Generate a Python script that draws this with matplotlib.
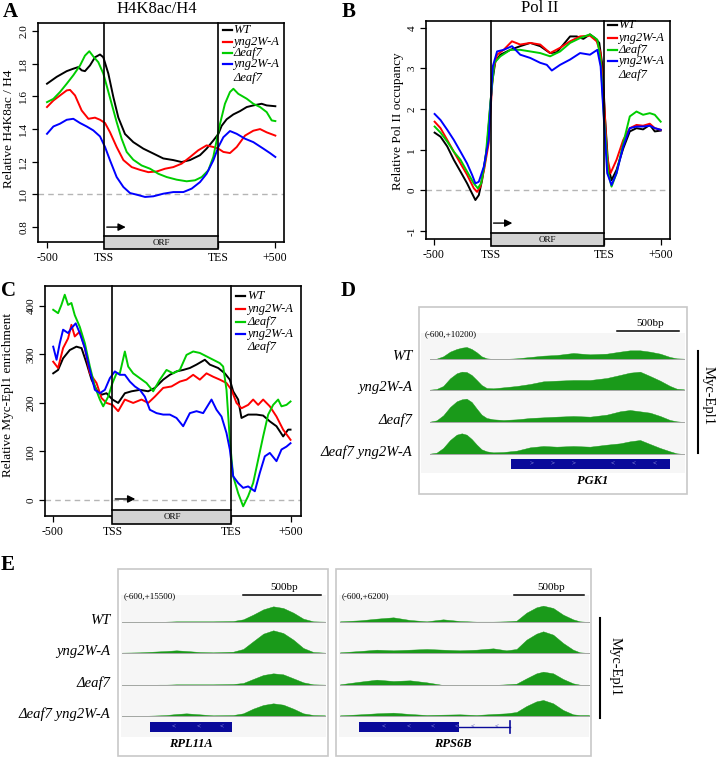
import matplotlib.pyplot as plt
from matplotlib.patches import Rectangle
from matplotlib.transforms import blended_transform_factory

plt.rcParams['font.family'] = ['Liberation Serif', 'DejaVu Serif']

W, H = 720, 758

strains = ['WT', 'yng2W-A', 'Δeaf7', 'yng2W-A']
colors = ['black', 'red', '#00cd00', 'blue']
igv_labels = ['WT', 'yng2W-A', 'Δeaf7', 'Δeaf7 yng2W-A']

# ---- A: H4K8ac/H4 (x: -500..0 upstream, 0..1000 scaled ORF, 1000..1500 downstream)
a_wt_x = [-500, -415, -327, -269, -225, -196, -167, -123, -79, -35, -6, 38, 82, 126, 184, 257, 345, 433,
          520, 608, 681, 754, 842, 900, 959, 1003, 1032, 1076, 1135, 1193, 1252, 1310, 1383, 1427, 1503]
a_wt_y = [1.678, 1.72, 1.755, 1.77, 1.78, 1.76, 1.755, 1.79, 1.84, 1.857, 1.84, 1.74, 1.596, 1.47, 1.37,
          1.32, 1.28, 1.25, 1.22, 1.21, 1.198, 1.21, 1.24, 1.28, 1.33, 1.37, 1.42, 1.46, 1.49, 1.51, 1.535,
          1.545, 1.555, 1.545, 1.54]
a_red_x = [-500, -444, -386, -327, -298, -254, -196, -137, -79, -35, 9, 53, 111, 170, 243, 316, 389, 462,
           535, 608, 681, 754, 827, 900, 959, 1003, 1047, 1105, 1164, 1237, 1310, 1369, 1427, 1503]
a_red_y = [1.535, 1.575, 1.606, 1.637, 1.64, 1.606, 1.514, 1.463, 1.47, 1.457, 1.437, 1.38, 1.29, 1.21,
           1.167, 1.15, 1.136, 1.14, 1.157, 1.167, 1.188, 1.228, 1.27, 1.30, 1.29, 1.28, 1.26, 1.253, 1.29,
           1.36, 1.39, 1.40, 1.38, 1.36]
a_grn_x = [-500, -444, -386, -327, -269, -210, -167, -129, -94, -50, -6, 23, 67, 111, 155, 199, 257, 330,
           404, 477, 550, 637, 725, 798, 857, 915, 959, 988, 1018, 1061, 1105, 1135, 1178, 1252, 1310, 1369,
           1427, 1471, 1503]
a_grn_y = [1.565, 1.585, 1.627, 1.678, 1.73, 1.79, 1.85, 1.877, 1.845, 1.81, 1.74, 1.667, 1.555, 1.443,
           1.34, 1.26, 1.212, 1.177, 1.157, 1.126, 1.106, 1.09, 1.08, 1.086, 1.106, 1.147, 1.23, 1.33, 1.433,
           1.555, 1.627, 1.647, 1.616, 1.586, 1.555, 1.535, 1.504, 1.453, 1.449]
a_blu_x = [-500, -444, -386, -327, -269, -210, -152, -94, -35, 9, 53, 111, 170, 228, 287, 360, 433, 520,
           608, 696, 769, 842, 900, 959, 1003, 1047, 1105, 1164, 1237, 1310, 1398, 1456, 1503]
a_blu_y = [1.371, 1.416, 1.433, 1.457, 1.463, 1.437, 1.416, 1.392, 1.355, 1.29, 1.208, 1.106, 1.045, 1.008,
           0.998, 0.984, 0.988, 1.004, 1.014, 1.014, 1.035, 1.075, 1.126, 1.208, 1.29, 1.35, 1.388, 1.371,
           1.341, 1.32, 1.28, 1.253, 1.229]

# ---- B: Pol II
b_wt_x = [-494, -442, -383, -325, -266, -208, -164, -135, -105, -76, -32, 12, 41, 85, 173, 260, 348, 436,
          523, 582, 640, 699, 757, 816, 874, 918, 956, 985, 1006, 1035, 1064, 1108, 1167, 1225, 1284, 1342,
          1401, 1445, 1497]
b_wt_y = [1.42, 1.32, 1.08, 0.75, 0.46, 0.17, -0.08, -0.24, -0.12, 0.25, 1.08, 2.64, 3.18, 3.34, 3.46,
          3.55, 3.63, 3.55, 3.38, 3.40, 3.59, 3.79, 3.79, 3.73, 3.84, 3.75, 3.63, 3.05, 1.82, 0.58, 0.25,
          0.50, 1.03, 1.45, 1.53, 1.50, 1.61, 1.45, 1.47]
b_red_x = [-494, -442, -383, -325, -266, -208, -149, -120, -91, -56, -18, 18, 56, 114, 187, 260, 348, 436,
           523, 611, 699, 787, 874, 933, 968, 997, 1026, 1055, 1108, 1167, 1225, 1284, 1342, 1401, 1445, 1497]
b_red_y = [1.69, 1.53, 1.24, 0.95, 0.66, 0.38, 0.05, -0.04, 0.09, 0.54, 1.16, 2.89, 3.34, 3.46, 3.67,
           3.59, 3.63, 3.59, 3.38, 3.51, 3.67, 3.79, 3.81, 3.67, 3.38, 2.23, 0.83, 0.42, 0.75, 1.24, 1.53,
           1.61, 1.59, 1.64, 1.53, 1.49]
b_grn_x = [-494, -442, -383, -325, -266, -208, -149, -114, -85, -47, -3, 32, 85, 173, 260, 348, 436, 523,
           611, 699, 787, 874, 939, 968, 997, 1035, 1064, 1108, 1167, 1225, 1284, 1342, 1401, 1445, 1497]
b_grn_y = [1.57, 1.42, 1.20, 0.95, 0.75, 0.46, 0.17, 0.05, 0.17, 0.75, 2.15, 3.14, 3.30, 3.46, 3.46,
           3.42, 3.38, 3.30, 3.42, 3.63, 3.75, 3.84, 3.71, 3.22, 1.82, 0.42, 0.09, 0.42, 1.16, 1.82, 1.94,
           1.86, 1.90, 1.86, 1.69]
b_blu_x = [-494, -442, -383, -325, -266, -208, -164, -135, -105, -61, -18, 18, 56, 114, 187, 260, 348, 436,
           494, 538, 611, 699, 787, 874, 939, 968, 997, 1026, 1064, 1108, 1167, 1225, 1284, 1342, 1401, 1445,
           1497]
b_blu_y = [1.88, 1.73, 1.49, 1.24, 0.95, 0.66, 0.38, 0.17, 0.21, 0.58, 1.24, 3.05, 3.42, 3.46, 3.55,
           3.34, 3.26, 3.14, 3.09, 2.95, 3.09, 3.22, 3.38, 3.34, 3.46, 3.05, 1.73, 0.42, 0.13, 0.42, 1.08,
           1.53, 1.57, 1.57, 1.59, 1.53, 1.49]

# ---- C: Myc-Epl1
c_wt_x = [-498, -457, -415, -359, -303, -260, -218, -176, -134, -92, -50, 0, 48, 104, 160, 230, 300, 356,
          426, 482, 538, 594, 650, 706, 776, 818, 888, 944, 986, 1014, 1056, 1084, 1140, 1210, 1266, 1322,
          1378, 1434, 1476, 1496]
c_wt_y = [261, 268, 292, 309, 316, 313, 282, 248, 227, 217, 220, 207, 200, 220, 224, 227, 224, 231, 248,
          258, 265, 268, 272, 279, 289, 279, 272, 261, 248, 224, 207, 169, 176, 176, 174, 162, 152, 131,
          145, 145]
c_red_x = [-498, -457, -415, -373, -345, -317, -275, -232, -190, -134, -92, -50, 0, 48, 104, 174, 244, 300,
           356, 426, 496, 566, 622, 678, 734, 790, 846, 902, 958, 1000, 1042, 1084, 1140, 1182, 1224, 1266,
           1322, 1378, 1434, 1496]
c_red_y = [285, 272, 313, 333, 361, 337, 347, 313, 261, 241, 210, 200, 196, 183, 207, 200, 207, 200, 213,
           231, 234, 244, 248, 258, 248, 261, 254, 248, 241, 227, 200, 189, 196, 207, 196, 207, 193, 172,
           145, 124]
c_grn_x = [-498, -457, -429, -401, -373, -345, -317, -275, -232, -190, -148, -106, -78, -36, 0, 34, 62, 104,
           132, 174, 230, 286, 342, 398, 454, 510, 566, 622, 678, 734, 790, 846, 902, 930, 958, 986, 1014,
           1056, 1098, 1140, 1182, 1224, 1266, 1308, 1350, 1392, 1420, 1462, 1496]
c_grn_y = [392, 385, 402, 423, 402, 406, 381, 357, 323, 275, 234, 207, 193, 213, 241, 261, 261, 306, 275,
           261, 251, 241, 224, 248, 268, 261, 268, 299, 306, 303, 296, 289, 282, 275, 227, 124, 49, 14, -13,
           8, 35, 83, 131, 176, 196, 207, 193, 196, 203]
c_blu_x = [-498, -470, -443, -415, -373, -345, -309, -275, -232, -190, -148, -106, -64, -22, 20, 62, 104,
           146, 188, 230, 272, 314, 370, 426, 482, 538, 594, 650, 706, 762, 832, 874, 916, 958, 986, 1014,
           1056, 1098, 1140, 1196, 1238, 1280, 1322, 1378, 1420, 1462, 1496]
c_blu_y = [316, 289, 323, 351, 344, 354, 364, 344, 313, 268, 227, 220, 227, 251, 265, 258, 258, 244, 234,
           227, 213, 186, 179, 176, 176, 169, 152, 179, 183, 179, 207, 186, 172, 138, 104, 49, 35, 25, 28,
           18, 56, 90, 97, 80, 104, 110, 117]

# ---- D: PGK1 browser tracks (position = fraction of window, signal in arbitrary units)
d_pos = [0, .026, .052, .079, .105, .125, .144, .164, .184, .203, .223, .249, .289, .341, .394, .446, .499,
         .564, .630, .696, .748, .787, .827, .866, .906, .945, .971, 1.0]
d_tracks = [
    [0, 1, 8, 22, 30, 34, 36, 30, 20, 8, 2, 0, 0, 2, 6, 10, 12, 18, 14, 16, 22, 26, 26, 22, 16, 6, 2, 1],
    [1, 3, 12, 35, 50, 55, 54, 45, 30, 15, 6, 5, 8, 12, 18, 26, 28, 30, 30, 36, 45, 52, 55, 42, 28, 12, 4, 2],
    [1, 5, 20, 45, 62, 68, 70, 60, 40, 22, 12, 8, 6, 8, 12, 14, 16, 18, 16, 22, 32, 36, 32, 28, 18, 6, 2, 0],
    [1, 4, 18, 42, 58, 62, 58, 45, 28, 14, 8, 5, 6, 10, 20, 24, 22, 24, 22, 28, 32, 38, 42, 30, 18, 8, 2, 0],
]

# ---- E: RPL11A and RPS6B browser tracks
e1_pos = [0, .087, .186, .219, .268, .317, .383, .449, .548, .597, .646, .696, .745, .794, .844, .893,
          .942, 1.0]
e1_tracks = [
    [0, 0, 0, 1, 2, 2, 2, 2, 3, 8, 22, 38, 47, 42, 28, 10, 2, 1],
    [1, 2, 5, 6, 8, 6, 3, 2, 4, 12, 35, 58, 68, 60, 40, 15, 3, 1],
    [0, 0, 1, 1, 2, 2, 2, 2, 3, 6, 18, 30, 35, 32, 20, 8, 2, 1],
    [0, 0, 2, 3, 6, 8, 5, 2, 3, 8, 22, 33, 38, 34, 22, 8, 3, 2],
]
e2_pos = [0, .080, .147, .214, .281, .348, .414, .481, .548, .615, .668, .709, .749, .789, .816, .856,
          .896, .936, .963, 1.0]
e2_tracks = [
    [2, 5, 10, 14, 6, 2, 8, 3, 1, 1, 2, 4, 28, 44, 49, 42, 22, 8, 2, 0],
    [2, 6, 10, 8, 10, 12, 10, 8, 10, 14, 8, 12, 40, 58, 65, 55, 30, 10, 2, 0],
    [2, 10, 16, 12, 14, 8, 0, 0, 0, 0, 2, 4, 20, 35, 40, 35, 18, 5, 1, 0],
    [2, 5, 8, 10, 6, 3, 4, 5, 3, 6, 8, 12, 30, 44, 48, 38, 18, 5, 3, 3],
]

fig = plt.figure(figsize=(W / 100, H / 100), dpi=100)

# pixel canvas for the browser panels and free text
cv = fig.add_axes([0, 0, 1, 1])
cv.set_xlim(0, W)
cv.set_ylim(H, 0)
cv.axis('off')


def px_axes(x0, y0, x1, y1):
    return fig.add_axes([x0 / W, 1 - y1 / H, (x1 - x0) / W, (y1 - y0) / H])


def profile(ax, data, xlim, ylim, yticks, ref_y, arrow_y, leg):
    for (x, y), c in zip(data, colors):
        ax.plot(x, y, color=c, lw=1.4)
    ax.axhline(ref_y, color='#b5b5b5', ls=(0, (4, 3)), lw=1, zorder=1)
    ax.set_xlim(*xlim)
    ax.set_ylim(*ylim)
    tr = blended_transform_factory(ax.transData, ax.transAxes)
    for xv in (0, 1000):
        ax.plot([xv, xv], [0.028, 1], transform=tr, color='black', lw=1.2, clip_on=False)
    ax.add_patch(Rectangle((0, -0.034), 1000, 0.062, transform=tr, fc='#d3d3d3', ec='black',
                           lw=1.2, clip_on=False, zorder=5))
    ax.text(500, -0.004, 'ORF', transform=tr, ha='center', va='center', fontsize=6.5, zorder=6)
    ax.annotate('', xy=(215, arrow_y), xytext=(0, arrow_y), xycoords=tr,
                arrowprops=dict(arrowstyle='-|>', color='black', lw=1, mutation_scale=11))
    ax.set_xticks([-500, 0, 1000, 1500])
    ax.set_xticklabels(['-500', 'TSS', 'TES', '+500'], fontsize=8.5)
    ax.set_yticks(yticks)
    ax.set_yticklabels([str(t) for t in yticks], rotation=90, va='center', fontsize=8)
    ax.tick_params(length=4, width=0.9, pad=3)
    for s in ax.spines.values():
        s.set_linewidth(1.2)
    lx, ly = leg
    for i, (lab, c) in enumerate(zip(strains, colors)):
        ax.plot([lx, lx + 0.035], [ly[i], ly[i]], transform=ax.transAxes, color=c, lw=1.6)
        ax.text(lx + 0.042, ly[i], lab, transform=ax.transAxes, style='italic', fontsize=9, va='center')
    ax.text(lx + 0.042, ly[4], 'Δeaf7', transform=ax.transAxes, style='italic', fontsize=9, va='center')


axA = px_axes(38, 23, 284, 242)
profile(axA, [(a_wt_x, a_wt_y), (a_red_x, a_red_y), (a_grn_x, a_grn_y), (a_blu_x, a_blu_y)],
        (-579, 1579), (0.708, 2.05), [0.8, 1.0, 1.2, 1.4, 1.6, 1.8, 2.0], 1.0, 0.068,
        (0.752, [0.968, 0.913, 0.865, 0.815, 0.75]))
axA.set_yticklabels(['0.8', '1.0', '1.2', '1.4', '1.6', '1.8', '2.0'], rotation=90, va='center', fontsize=8)

axB = px_axes(426, 21, 670, 239)
profile(axB, [(b_wt_x, b_wt_y), (b_red_x, b_red_y), (b_grn_x, b_grn_y), (b_blu_x, b_blu_y)],
        (-570, 1579), (-1.2, 4.17), [-1, 0, 1, 2, 3, 4], 0.0, 0.073,
        (0.746, [0.982, 0.922, 0.867, 0.817, 0.752]))

axC = px_axes(45, 286, 301, 516)
profile(axC, [(c_wt_x, c_wt_y), (c_red_x, c_red_y), (c_grn_x, c_grn_y), (c_blu_x, c_blu_y)],
        (-567, 1584), (-33, 441), [0, 100, 200, 300, 400], 0.0, 0.074,
        (0.748, [0.957, 0.9, 0.842, 0.792, 0.735]))

cv.text(157, 9, 'H4K8ac/H4', ha='center', va='center', fontsize=12)
cv.text(540, 8, 'Pol II', ha='center', va='center', fontsize=12)
cv.text(9, 129, 'Relative H4K8ac / H4', rotation=90, ha='center', va='center', fontsize=9.5)
cv.text(398, 121, 'Relative Pol II occupancy', rotation=90, ha='center', va='center', fontsize=9.5)
cv.text(8, 395, 'Relative Myc-Epl1 enrichment', rotation=90, ha='center', va='center', fontsize=9.5)
for letter, (lx, ly) in zip('ABCDE', [(10, 12), (349, 12), (9, 291), (348, 291), (8, 565)]):
    cv.text(lx, ly, letter, ha='center', va='center', fontsize=15, fontweight='bold')

GREEN = '#1a9a1a'
GENE = '#0a0a9a'


def browser(box, bg, track_x, baselines, pos, tracks, region, bar, bar_y, labels_x):
    x0, y0, x1, y1 = box
    cv.add_patch(Rectangle((x0, y0), x1 - x0, y1 - y0, fc='white', ec='#c8c8c8', lw=1.2))
    cv.add_patch(Rectangle((bg[0], bg[1]), bg[2] - bg[0], bg[3] - bg[1], fc='#f6f6f6', ec='none'))
    tx0, tx1 = track_x
    xs = [tx0 + p * (tx1 - tx0) for p in pos]
    for base, sig in zip(baselines, tracks):
        cv.plot([tx0, tx1], [base, base], color='#a8a8a8', lw=0.7)
        cv.fill_between(xs, [base - s / 3 for s in sig], base, color=GREEN, lw=0.3)
    cv.text(x0 + 6, bg[1] + 1, region, fontsize=6.5, va='center')
    cv.plot([bar[0], bar[1]], [bar_y, bar_y], color='black', lw=1.1)
    cv.text((bar[0] + bar[1]) / 2 + 2, bar_y - 8, '500bp', ha='center', va='center', fontsize=8)
    if labels_x is not None:
        for base, lab in zip(baselines, igv_labels):
            cv.text(labels_x, base - 2, lab, ha='right', va='center', style='italic', fontsize=10.5)


def gene(x0, x1, y, chevrons, marks, name, name_x):
    cv.add_patch(Rectangle((x0, y - 5), x1 - x0, 10, fc=GENE, ec='none'))
    for cx, m in zip(chevrons, marks):
        cv.text(cx, y, m, ha='center', va='center', fontsize=5, color='#c8c8ff')
    cv.text(name_x, y + 17, name, ha='center', va='center', fontsize=9, style='italic', fontweight='bold')


# D
browser((419, 307, 687, 494), (421, 333, 685, 473), (430, 684), [359, 390, 422, 454],
        d_pos, d_tracks, '(-600,+10200)', (617, 679), 331, 412)
gene(511, 670, 464, [532, 553, 574, 613, 634, 655], ['>', '>', '>', '<', '<', '<'], 'PGK1', 593)
cv.plot([698, 698], [351, 453], color='black', lw=1.5)
cv.text(708, 396, 'Myc-Epl1', rotation=270, ha='center', va='center', fontsize=10.5)

# E left
browser((118, 569, 328, 756), (121, 595, 326, 737), (122, 325), [622, 653, 685, 716],
        e1_pos, e1_tracks, '(-600,+15500)', (243, 321), 595, 110)
gene(150, 232, 727, [174, 199, 222], ['<', '<', '<'], 'RPL11A', 191)

# E right
browser((336, 569, 591, 756), (339, 595, 589, 737), (340, 589), [622, 653, 685, 716],
        e2_pos, e2_tracks, '(-600,+6200)', (514, 584), 595, None)
gene(359, 459, 727, [384, 409, 433, 457], ['<', '<', '<', '<'], 'RPS6B', 453)
cv.plot([459, 510], [727, 727], color=GENE, lw=1)
cv.plot([510, 510], [721, 733], color=GENE, lw=1.2)
for ax_ in (473, 497):
    cv.text(ax_, 727, '<', ha='center', va='center', fontsize=5, color=GENE)
cv.plot([600, 600], [618, 718], color='black', lw=1.5)
cv.text(615, 667, 'Myc-Epl1', rotation=270, ha='center', va='center', fontsize=10.5)

fig.savefig('out.png', dpi=100)
